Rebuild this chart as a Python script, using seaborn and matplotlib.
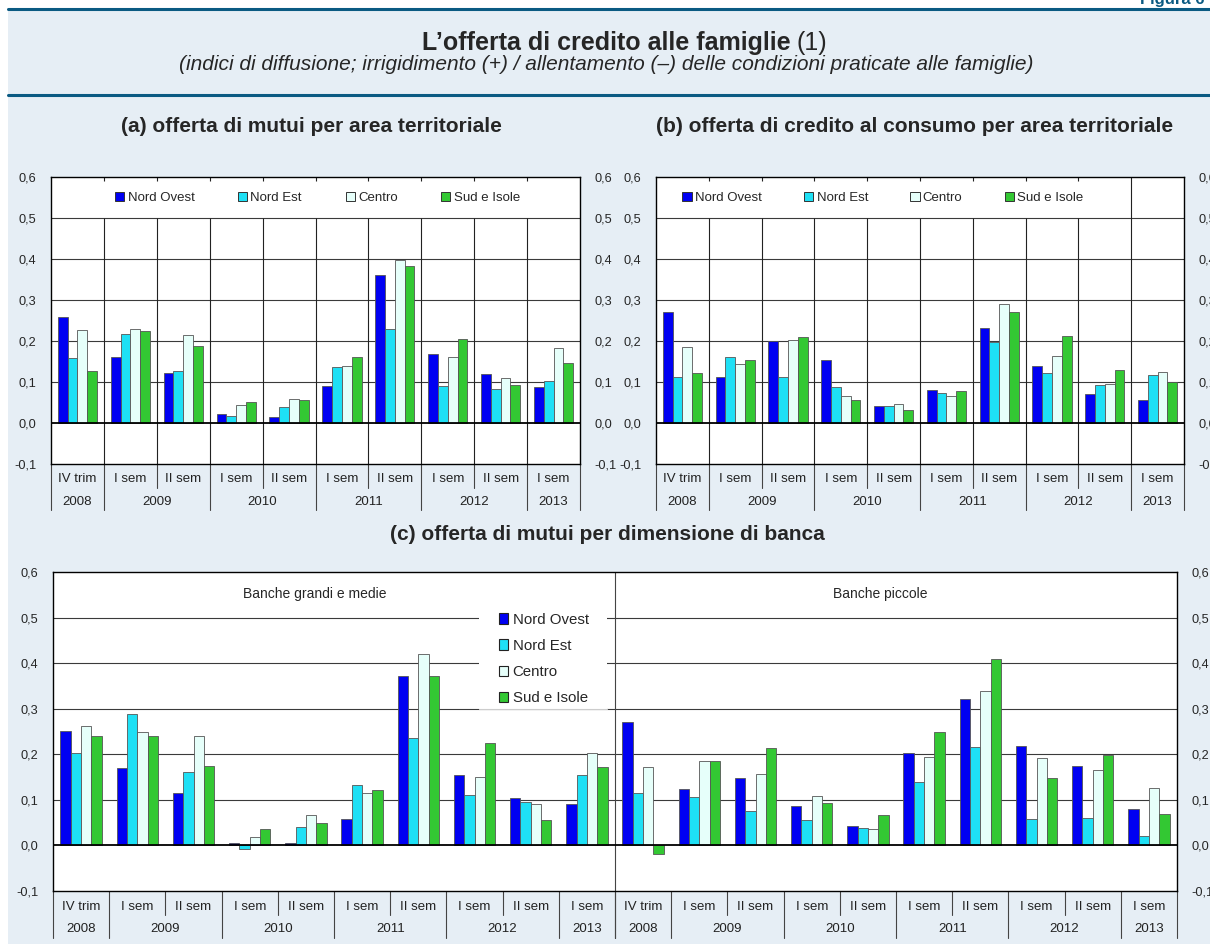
import matplotlib
matplotlib.use('Agg')
import matplotlib.pyplot as plt
import matplotlib.transforms as mtransforms
from matplotlib.lines import Line2D
from matplotlib.patches import Patch, Rectangle
from matplotlib.ticker import FuncFormatter, MultipleLocator
import pandas as pd
import seaborn as sns

# periodi e anni, comuni a tutti i pannelli
periodi = ['IV trim', 'I sem', 'II sem', 'I sem', 'II sem',
           'I sem', 'II sem', 'I sem', 'II sem', 'I sem']
anni = ['2008', '2009', '2009', '2010', '2010',
        '2011', '2011', '2012', '2012', '2013']
aree = ['Nord Ovest', 'Nord Est', 'Centro', 'Sud e Isole']
colori = ['#0000f2', '#1ee0f5', '#e6fffa', '#33c833']

# (a) offerta di mutui per area territoriale
mutui_nord_ovest = [0.258, 0.160, 0.122, 0.022, 0.015, 0.090, 0.361, 0.169, 0.119, 0.088]
mutui_nord_est = [0.158, 0.216, 0.126, 0.017, 0.039, 0.136, 0.229, 0.091, 0.083, 0.102]
mutui_centro = [0.227, 0.229, 0.214, 0.044, 0.058, 0.139, 0.398, 0.162, 0.110, 0.184]
mutui_sud = [0.127, 0.225, 0.189, 0.051, 0.056, 0.160, 0.384, 0.204, 0.092, 0.147]

# (b) offerta di credito al consumo per area territoriale
consumo_nord_ovest = [0.270, 0.113, 0.199, 0.153, 0.042, 0.080, 0.232, 0.138, 0.070, 0.055]
consumo_nord_est = [0.111, 0.160, 0.112, 0.089, 0.041, 0.073, 0.197, 0.122, 0.092, 0.116]
consumo_centro = [0.185, 0.143, 0.202, 0.065, 0.046, 0.066, 0.291, 0.163, 0.095, 0.124]
consumo_sud = [0.122, 0.153, 0.209, 0.057, 0.032, 0.079, 0.271, 0.213, 0.130, 0.099]

# (c) banche grandi e medie
grandi_nord_ovest = [0.252, 0.169, 0.114, 0.006, 0.006, 0.057, 0.371, 0.155, 0.105, 0.090]
grandi_nord_est = [0.202, 0.288, 0.161, -0.008, 0.041, 0.132, 0.235, 0.111, 0.095, 0.155]
grandi_centro = [0.261, 0.249, 0.240, 0.019, 0.067, 0.116, 0.421, 0.151, 0.090, 0.203]
grandi_sud = [0.240, 0.240, 0.175, 0.035, 0.050, 0.121, 0.372, 0.224, 0.056, 0.173]

# (c) banche piccole
piccole_nord_ovest = [0.271, 0.124, 0.148, 0.087, 0.042, 0.203, 0.321, 0.219, 0.175, 0.079]
piccole_nord_est = [0.114, 0.106, 0.076, 0.055, 0.038, 0.140, 0.217, 0.059, 0.061, 0.021]
piccole_centro = [0.173, 0.186, 0.156, 0.108, 0.037, 0.193, 0.339, 0.191, 0.166, 0.125]
piccole_sud = [-0.018, 0.186, 0.213, 0.094, 0.066, 0.250, 0.409, 0.148, 0.198, 0.069]

W, H = 1210, 944
SFONDO = '#e6eef5'
BLU = '#0a5a82'

sns.set_style('white')
plt.rcParams['font.family'] = ['Liberation Sans', 'DejaVu Sans']


def riquadro(l, t, r, b):
    return [l / W, 1 - b / H, (r - l) / W, (b - t) / H]


def virgola(v, pos):
    return f'{round(v, 1) + 0:.1f}'.replace('.', ',')


def tabella(chiavi, serie):
    righe = []
    for area, valori in zip(aree, serie):
        for chiave, v in zip(chiavi, valori):
            righe.append({'periodo': chiave, 'area': area, 'valore': v})
    return pd.DataFrame(righe)


def barre(ax, chiavi, serie, larghezza):
    df = tabella(chiavi, serie)
    sns.barplot(data=df, x='periodo', y='valore', hue='area', order=chiavi,
                hue_order=aree, palette=colori, width=larghezza, errorbar=None,
                saturation=1, edgecolor='#555555', linewidth=0.6, legend=False,
                ax=ax, zorder=3)
    ax.set_ylim(-0.1, 0.6)
    ax.set_xlim(-0.5, len(chiavi) - 0.5)
    ax.yaxis.set_major_locator(MultipleLocator(0.1))
    ax.yaxis.set_major_formatter(FuncFormatter(virgola))
    ax.tick_params(axis='y', left=False, right=False, labelleft=True,
                   labelright=True, labelsize=9.2, pad=7)
    ax.tick_params(axis='x', bottom=False, labelbottom=False)
    ax.set_xlabel('')
    ax.set_ylabel('')
    ax.set_facecolor('white')
    for s in ax.spines.values():
        s.set_color('black')
        s.set_linewidth(1.0)
    for y in [0.1, 0.2, 0.3, 0.4, 0.5]:
        ax.axhline(y, color='#3a3a3a', lw=0.8, zorder=1)
    ax.axhline(0, color='black', lw=1.3, zorder=4)


def asse_periodi(ax, offset, riga1, riga2, corto, lungo):
    tr = mtransforms.blended_transform_factory(ax.transData, ax.transAxes)
    n = len(periodi)
    for i, p in enumerate(periodi):
        ax.text(offset + i, riga1, p, transform=tr, ha='center', va='center',
                fontsize=9.5, color='#222222')
    inizio = 0
    for i in range(1, n + 1):
        if i == n or anni[i] != anni[inizio]:
            ax.text(offset + (inizio + i - 1) / 2, riga2, anni[inizio], transform=tr,
                    ha='center', va='center', fontsize=9.5, color='#222222')
            inizio = i
    for i in range(n + 1):
        x = offset + i - 0.5
        fine = lungo if i in (0, n) or anni[i] != anni[i - 1] else corto
        ax.plot([x, x], [0, fine], transform=tr, color='#444444', lw=0.8,
                clip_on=False)


def legenda_riga(ax, x0, spazio):
    maniglie = [Patch(facecolor=c, edgecolor='#333333', linewidth=0.7, label=a)
                for a, c in zip(aree, colori)]
    ax.legend(handles=maniglie, ncol=4, loc='center left', bbox_to_anchor=(x0, 0.927),
              frameon=False, fontsize=9.5, handlelength=0.7, handleheight=0.7,
              handletextpad=0.25, columnspacing=spazio, borderpad=0, borderaxespad=0)


fig = plt.figure(figsize=(W / 100, H / 100), dpi=100)
fig.patch.set_facecolor('white')
fig.add_artist(Rectangle((8 / W, 0), 1, 1 - 9 / H, transform=fig.transFigure,
                         facecolor=SFONDO, edgecolor='none', zorder=0))
for yp in [9, 95]:
    fig.add_artist(Line2D([8 / W, 1], [1 - yp / H] * 2, transform=fig.transFigure,
                          color=BLU, lw=2.2, zorder=1))
fig.text(1140 / W, 1 - 4 / H, 'Figura 6', color=BLU, fontsize=12, fontweight='bold',
         ha='left', va='baseline')

fig.text(791 / W, 1 - 43 / H, 'L\u2019offerta di credito alle famiglie', fontsize=18,
         fontweight='bold', ha='right', va='center')
fig.text(796 / W, 1 - 43 / H, '(1)', fontsize=18, ha='left', va='center')
fig.text(606 / W, 1 - 65 / H,
         '(indici di diffusione; irrigidimento (+) / allentamento (\u2013) delle '
         'condizioni praticate alle famiglie)',
         fontsize=15, style='italic', ha='center', va='center')

fig.text(311 / W, 1 - 127 / H, '(a) offerta di mutui per area territoriale',
         fontsize=15, fontweight='bold', ha='center', va='center')
fig.text(915 / W, 1 - 127 / H, '(b) offerta di credito al consumo per area territoriale',
         fontsize=15, fontweight='bold', ha='center', va='center')
fig.text(607 / W, 1 - 535 / H, '(c) offerta di mutui per dimensione di banca',
         fontsize=15, fontweight='bold', ha='center', va='center')

chiavi = [f'{p} {a}' for p, a in zip(periodi, anni)]

# pannello (a)
ax_a = fig.add_axes(riquadro(51, 177, 580, 464))
barre(ax_a, chiavi, [mutui_nord_ovest, mutui_nord_est, mutui_centro, mutui_sud], 0.74)
ax_a.vlines([i + 0.5 for i in range(9)], -0.1, 0.5, color='#222222', lw=0.8, zorder=1)
ax_a.vlines([i + 0.5 for i in range(9)], 0.59, 0.6, color='#222222', lw=0.8, zorder=1)
asse_periodi(ax_a, 0, -0.052, -0.132, -0.084, -0.160)
legenda_riga(ax_a, 0.121, 3.3)

# pannello (b)
ax_b = fig.add_axes(riquadro(656, 177, 1184, 464))
barre(ax_b, chiavi, [consumo_nord_ovest, consumo_nord_est, consumo_centro, consumo_sud], 0.74)
ax_b.vlines([i + 0.5 for i in range(8)], -0.1, 0.5, color='#222222', lw=0.8, zorder=1)
ax_b.vlines([i + 0.5 for i in range(8)], 0.59, 0.6, color='#222222', lw=0.8, zorder=1)
ax_b.vlines([8.5], -0.1, 0.6, color='#222222', lw=0.8, zorder=1)
asse_periodi(ax_b, 0, -0.052, -0.132, -0.084, -0.160)
legenda_riga(ax_b, 0.050, 3.2)

# pannello (c)
chiavi_c = ['grandi ' + k for k in chiavi] + ['piccole ' + k for k in chiavi]
ax_c = fig.add_axes(riquadro(53, 572, 1177, 891))
barre(ax_c, chiavi_c,
      [grandi_nord_ovest + piccole_nord_ovest, grandi_nord_est + piccole_nord_est,
       grandi_centro + piccole_centro, grandi_sud + piccole_sud], 0.74)
ax_c.vlines([9.5], -0.1, 0.6, color='#444444', lw=0.8, zorder=1)
asse_periodi(ax_c, 0, -0.050, -0.119, -0.075, -0.147)
asse_periodi(ax_c, 10, -0.050, -0.119, -0.075, -0.147)
ax_c.text(0.233, 0.93, 'Banche grandi e medie', transform=ax_c.transAxes,
          ha='center', va='center', fontsize=10)
ax_c.text(0.736, 0.93, 'Banche piccole', transform=ax_c.transAxes,
          ha='center', va='center', fontsize=10)

tr_c = mtransforms.blended_transform_factory(ax_c.transAxes, ax_c.transData)
ax_c.add_patch(Rectangle((0.379, 0.3), 0.114, 0.26, transform=tr_c,
                         facecolor='white', edgecolor='none', zorder=2))
ax_c.plot([0.379, 0.493], [0.3, 0.3], transform=tr_c, color='#cccccc', lw=0.8, zorder=2.1)
maniglie = [Patch(facecolor=c, edgecolor='#222222', linewidth=0.8, label=a)
            for a, c in zip(aree, colori)]
ax_c.legend(handles=maniglie, ncol=1, loc='upper left', bbox_to_anchor=(0.397, 0.873),
            frameon=False, fontsize=10.8, handlelength=0.6, handleheight=0.7,
            handletextpad=0.3, labelspacing=0.82, borderpad=0, borderaxespad=0)

fig.savefig('out.png', dpi=100, facecolor=fig.get_facecolor())
